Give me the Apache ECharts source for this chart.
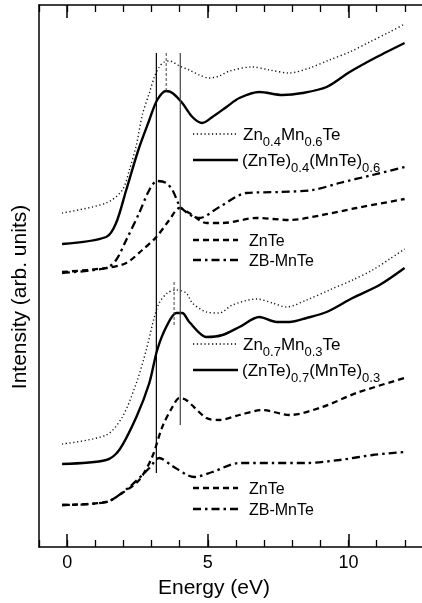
<!DOCTYPE html>
<html>
<head>
<meta charset="utf-8">
<script src="https://cdn.jsdelivr.net/npm/echarts@6/dist/echarts.min.js"></script>
<style>
html,body{margin:0;padding:0;background:#fff;}
#chart{width:422px;height:603px;}
</style>
</head>
<body>
<div id="chart"></div>
<script>
// Energy axis ticks (eV)
const majorTicks = [0, 5, 10];
// Series data: [energy (eV), intensity (arb. units)]
const zn04mn06Te = [[-0.18,334],[1.39,344],[1.96,357],[2.21,377],[2.46,402],[2.67,432],[2.92,454],[3.10,470],[3.27,480],[3.45,485],[3.63,486],[3.99,481],[4.34,477],[4.70,472],[5.05,469],[5.41,471],[5.77,476],[6.58,480],[7.19,477],[7.90,474],[8.61,479],[9.32,487],[10.04,495],[10.75,505],[11.46,515],[11.99,523]];
const znte04mnte06 = [[-0.18,303],[1.39,310],[1.74,324],[2.10,357],[2.53,397],[2.92,427],[3.20,447],[3.52,456],[3.74,454],[4.09,444],[4.45,430],[4.80,424],[5.16,430],[5.66,440],[6.12,449],[6.83,455],[7.65,452],[8.36,454],[9.22,460],[10.04,475],[11.00,490],[11.99,504]];
const znteTop = [[-0.18,275],[1.39,279],[2.10,284],[2.67,297],[3.17,310],[3.63,327],[3.99,339],[4.34,334],[4.95,324],[5.52,324],[6.73,329],[7.90,327],[9.07,332],[10.28,339],[11.99,348]];
const zbMnteTop = [[-0.18,274],[1.39,279],[1.74,287],[2.10,307],[2.56,334],[2.92,357],[3.20,366],[3.52,364],[3.74,357],[4.06,339],[4.70,329],[5.41,340],[6.37,354],[7.54,355],[8.72,357],[9.68,364],[10.85,372],[11.99,380]];
const zn07mn03Te = [[-0.18,103],[1.39,112],[1.96,130],[2.46,164],[2.81,197],[3.10,230],[3.27,244],[3.56,254],[3.88,257],[4.23,254],[4.45,244],[4.95,235],[5.41,234],[5.87,242],[6.73,248],[7.30,244],[7.79,240],[8.51,247],[9.32,257],[10.14,267],[10.85,277],[11.46,288],[11.99,298]];
const znte07mnte03 = [[-0.18,83],[1.39,87],[1.85,97],[2.46,130],[2.92,164],[3.20,197],[3.52,220],[3.88,234],[4.09,234],[4.34,225],[4.95,210],[5.52,212],[6.12,220],[6.83,230],[7.44,225],[7.90,225],[8.51,229],[9.22,235],[10.14,249],[11.10,262],[11.99,279]];
const znteBottom = [[-0.18,42],[1.39,45],[1.96,54],[2.56,67],[3.02,90],[3.38,120],[3.74,140],[3.99,149],[4.23,147],[4.95,129],[5.41,127],[6.12,132],[6.94,137],[7.90,132],[9.07,140],[10.28,154],[11.99,169]];
const zbMnteBottom = [[-0.18,42],[1.39,45],[2.21,60],[2.92,79],[3.27,89],[3.74,81],[4.27,72],[4.52,70],[5.16,75],[6.12,84],[7.30,84],[8.51,84],[9.68,87],[10.85,92],[11.99,95]];
// Vertical marker lines
const vLine1 = [[3.17,494],[3.17,74]];
const vLine2 = [[4.02,494],[4.02,122]];
const vDashTop = [[3.52,494],[3.52,454]];
const vDashBottom = [[3.80,265],[3.80,220]];

const chart = echarts.init(document.getElementById('chart'), null, {renderer:'canvas'});
const FONT = 'Liberation Sans, Arial, Helvetica, sans-serif';
const DOT = {width:1.4, type:[1.2,2.6], color:'#111'};
const SOLID = {width:2.4, type:'solid', color:'#000'};
const DASH = {width:2.3, type:[6,4], color:'#000'};
const DASHDOT = {width:2.3, type:[8,4,2.5,4], color:'#000'};

function line(data, ls, smooth){
  return {type:'line', xAxisIndex:0, yAxisIndex:0, data:data, showSymbol:false, symbol:'none',
    smooth: smooth===undefined?0.3:smooth, lineStyle:ls, silent:true, animation:false, z:3};
}
const gridGeom = {left:39, top:5, width:394, height:542, outerBoundsMode:'none', containLabel:false};
const rich = {
  m:{fontSize:16, fontFamily:FONT, color:'#000', lineHeight:20, verticalAlign:'bottom'},
  c:{fontSize:17, fontFamily:FONT, color:'#000', lineHeight:20, verticalAlign:'bottom'},
  s:{fontSize:13, fontFamily:FONT, color:'#000', lineHeight:20, verticalAlign:'bottom', padding:[0,0,-5,0]}
};
function legendItem(y, text, ls, tx){
  const dash = ls.type==='solid'?null:ls.type;
  return [
    {type:'line', shape:{x1:193,y1:y,x2:238,y2:y}, style:{stroke:'#000', lineWidth:ls.width, lineDash:dash}, silent:true},
    {type:'text', x:tx, y:y, style:{text:text, rich:rich, font:'16px '+FONT, fill:'#000', verticalAlign:'middle', align:'left'}, silent:true}
  ];
}
const g = [].concat(
  legendItem(134, '{c|Zn}{s|0.4}{c|Mn}{s|0.6}{c|Te}', DOT, 243),
  legendItem(160, '{c|(ZnTe)}{s|0.4}{c|(MnTe)}{s|0.6}', SOLID, 242),
  legendItem(240, '{m|ZnTe}', DASH, 249),
  legendItem(260, '{m|ZB-MnTe}', DASHDOT, 249),
  legendItem(344, '{c|Zn}{s|0.7}{c|Mn}{s|0.3}{c|Te}', DOT, 243),
  legendItem(370, '{c|(ZnTe)}{s|0.7}{c|(MnTe)}{s|0.3}', SOLID, 242),
  legendItem(488, '{m|ZnTe}', DASH, 249),
  legendItem(509, '{m|ZB-MnTe}', DASHDOT, 249),
  [
    {type:'text', x:20, y:297, rotation:Math.PI/2, style:{text:'Intensity (arb. units)', font:'21px '+FONT, fill:'#000', align:'center', verticalAlign:'middle'}, silent:true},
    {type:'text', x:214, y:588, style:{text:'Energy (eV)', font:'21px '+FONT, fill:'#000', align:'center', verticalAlign:'middle'}, silent:true}
  ]
);

const option = {
  animation:false,
  backgroundColor:'#fff',
  grid:[Object.assign({}, gridGeom), Object.assign({}, gridGeom)],
  xAxis:[
    {type:'value', gridIndex:0, position:'bottom', min:-1, max:13,
      axisLine:{show:true, onZero:false, lineStyle:{color:'#000', width:1.5}},
      axisTick:{show:true, inside:true, length:13, customValues:majorTicks, lineStyle:{color:'#000', width:1.5}},
      axisLabel:{show:true, customValues:majorTicks, fontSize:18, fontFamily:FONT, color:'#000', margin:7},
      splitLine:{show:false}},
    {type:'value', gridIndex:0, position:'top', min:-1, max:13,
      axisLine:{show:true, onZero:false, lineStyle:{color:'#000', width:1.5}},
      axisTick:{show:true, inside:true, length:13, customValues:majorTicks, lineStyle:{color:'#000', width:1.5}},
      axisLabel:{show:false}, splitLine:{show:false}},
    {type:'value', gridIndex:1, position:'bottom', min:-1, max:13, interval:1,
      axisLine:{show:false}, axisTick:{show:true, inside:true, length:7, lineStyle:{color:'#000', width:1.3}},
      axisLabel:{show:false}, splitLine:{show:false}},
    {type:'value', gridIndex:1, position:'top', min:-1, max:13, interval:1,
      axisLine:{show:false}, axisTick:{show:true, inside:true, length:7, lineStyle:{color:'#000', width:1.3}},
      axisLabel:{show:false}, splitLine:{show:false}}
  ],
  yAxis:[
    {type:'value', gridIndex:0, position:'left', min:0, max:542,
      axisLine:{show:true, onZero:false, lineStyle:{color:'#000', width:1.5}},
      axisTick:{show:false}, axisLabel:{show:false}, splitLine:{show:false}},
    {type:'value', gridIndex:1, min:0, max:542, show:false}
  ],
  series:[
    line(zn04mn06Te, DOT),
    line(znte04mnte06, SOLID),
    line(znteTop, DASH),
    line(zbMnteTop, DASHDOT),
    line(zn07mn03Te, DOT),
    line(znte07mnte03, SOLID),
    line(znteBottom, DASH),
    line(zbMnteBottom, DASHDOT),
    line(vLine1, {width:1.2, color:'#000', type:'solid'}, false),
    line(vLine2, {width:1.2, color:'#444', type:'solid'}, false),
    line(vDashTop, {width:1, color:'#444', type:[3,2]}, false),
    line(vDashBottom, {width:1, color:'#444', type:[3,2]}, false)
  ],
  graphic:g
};
chart.setOption(option);
</script>
</body>
</html>
